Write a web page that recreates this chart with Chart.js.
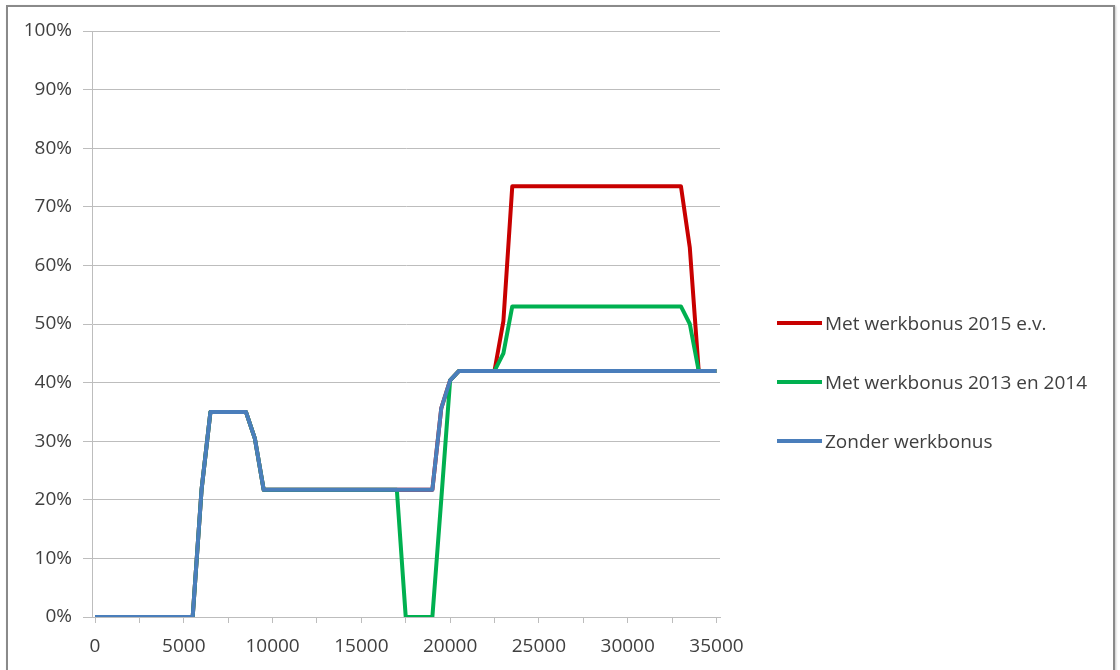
<!DOCTYPE html>
<html>
<head>
<meta charset="utf-8">
<title>Werkbonus</title>
<script src="https://cdn.jsdelivr.net/npm/chart.js@4.4.1/dist/chart.umd.min.js"></script>
<style>
  body { margin: 0; background: #fff; }
  #frame {
    position: absolute; left: 6px; top: 5px; width: 1109px; height: 720px;
    box-sizing: border-box; border: 2px solid #8a8a8a;
    box-shadow: 1px 1px 2px #c8c8c8;
  }
  #myChart { position: absolute; left: 0; top: 0; }
  .legend-item {
    position: absolute; left: 777px; height: 24px;
    font-family: 'Open Sans', sans-serif; font-size: 19px; color: #404040;
    display: flex; align-items: center; white-space: nowrap;
  }
  .legend-line { width: 45px; height: 4px; margin-right: 3px; }
</style>
</head>
<body>
<div id="frame"></div>
<canvas id="myChart" width="1120" height="670"></canvas>
<div id="legend"></div>
<script>
'use strict';

// ******* DATA *******
let incomeSteps = [0, 5500, 6000, 6500, 8500, 9000, 9500, 17000, 17500, 19000, 19500, 20000, 20500, 22500, 23000, 23500, 33000, 33500, 34000, 35000];
let rates2015 = [0, 0, 21.7, 35, 35, 30.5, 21.7, 21.7, 21.7, 21.7, 35.6, 40.4, 42, 42, 50.5, 73.5, 73.5, 63, 42, 42];
let rates2013 = [0, 0, 21.7, 35, 35, 30.5, 21.7, 21.7, 0, 0, 20, 40.4, 42, 42, 45, 53, 53, 50, 42, 42];
let ratesNone = [0, 0, 21.7, 35, 35, 30.5, 21.7, 21.7, 21.7, 21.7, 35.6, 40.4, 42, 42, 42, 42, 42, 42, 42, 42];

let seriesNames = ['Met werkbonus 2015 e.v.', 'Met werkbonus 2013 en 2014', 'Zonder werkbonus'];
let seriesColors = ['#c80000', '#00b050', '#4a7ebb'];

// tick marks every 2500, labels only on these
let xTicks = [0, 2500, 5000, 7500, 10000, 12500, 15000, 17500, 20000, 22500, 25000, 27500, 30000, 32500, 35000];
let xLabels = [0, 5000, 10000, 15000, 20000, 25000, 30000, 35000];
let yTicks = [0, 10, 20, 30, 40, 50, 60, 70, 80, 90, 100];

// ****** HELPERS ******
function toPoints(values) {
  let points = [];
  for (let i = 0; i < incomeSteps.length; i++) {
    points.push({ x: incomeSteps[i], y: values[i] });
  }
  return points;
}

function makeDataset(index, values, order) {
  return {
    label: seriesNames[index],
    data: toPoints(values),
    borderColor: seriesColors[index],
    backgroundColor: seriesColors[index],
    borderWidth: 4,
    pointRadius: 0,
    tension: 0,
    borderJoinStyle: 'round',
    order: order
  };
}

// ****** CHART ******
const gridGray = '#bdbdbd';

const ctx = document.getElementById('myChart').getContext('2d');
const myChart = new Chart(ctx, {
  type: 'line',
  data: {
    datasets: [
      makeDataset(0, rates2015, 3),
      makeDataset(1, rates2013, 2),
      makeDataset(2, ratesNone, 1)
    ]
  },
  options: {
    responsive: false,
    animation: false,
    devicePixelRatio: 1,
    layout: { padding: { left: 0, top: 31, right: 400, bottom: 0 } },
    plugins: {
      legend: { display: false },
      tooltip: { enabled: false }
    },
    scales: {
      x: {
        type: 'linear',
        min: -170,
        max: 35200,
        grid: { drawOnChartArea: false, drawTicks: true, tickLength: 6, color: gridGray },
        border: { color: gridGray, width: 1 },
        ticks: {
          autoSkip: false,
          maxRotation: 0,
          padding: 12,
          color: '#404040',
          font: { family: "'Open Sans', sans-serif", size: 19 },
          callback: function (value) {
            return xLabels.includes(value) ? String(value) : '';
          }
        },
        afterBuildTicks: function (scale) {
          scale.ticks = xTicks.map(function (v) { return { value: v }; });
        },
        afterFit: function (scale) { scale.height = 53; }
      },
      y: {
        min: yTicks[0],
        max: yTicks[yTicks.length - 1],
        grid: { color: gridGray, tickLength: 9 },
        border: { color: gridGray, width: 1 },
        ticks: {
          stepSize: 10,
          padding: 11,
          color: '#404040',
          font: { family: "'Open Sans', sans-serif", size: 19 },
          callback: function (value) { return value + '%'; }
        },
        afterFit: function (scale) { scale.width = 92; }
      }
    }
  }
});

// ***** LEGEND (html, built from the datasets) *****
let legendBox = document.getElementById('legend');
let legendTops = [323, 382, 441];
myChart.data.datasets.forEach(function (ds, i) {
  let item = document.createElement('div');
  item.className = 'legend-item';
  item.style.top = (legendTops[i] - 12) + 'px';
  let line = document.createElement('span');
  line.className = 'legend-line';
  line.style.background = ds.borderColor;
  let text = document.createElement('span');
  text.textContent = ds.label;
  item.appendChild(line);
  item.appendChild(text);
  legendBox.appendChild(item);
});
</script>
</body>
</html>
